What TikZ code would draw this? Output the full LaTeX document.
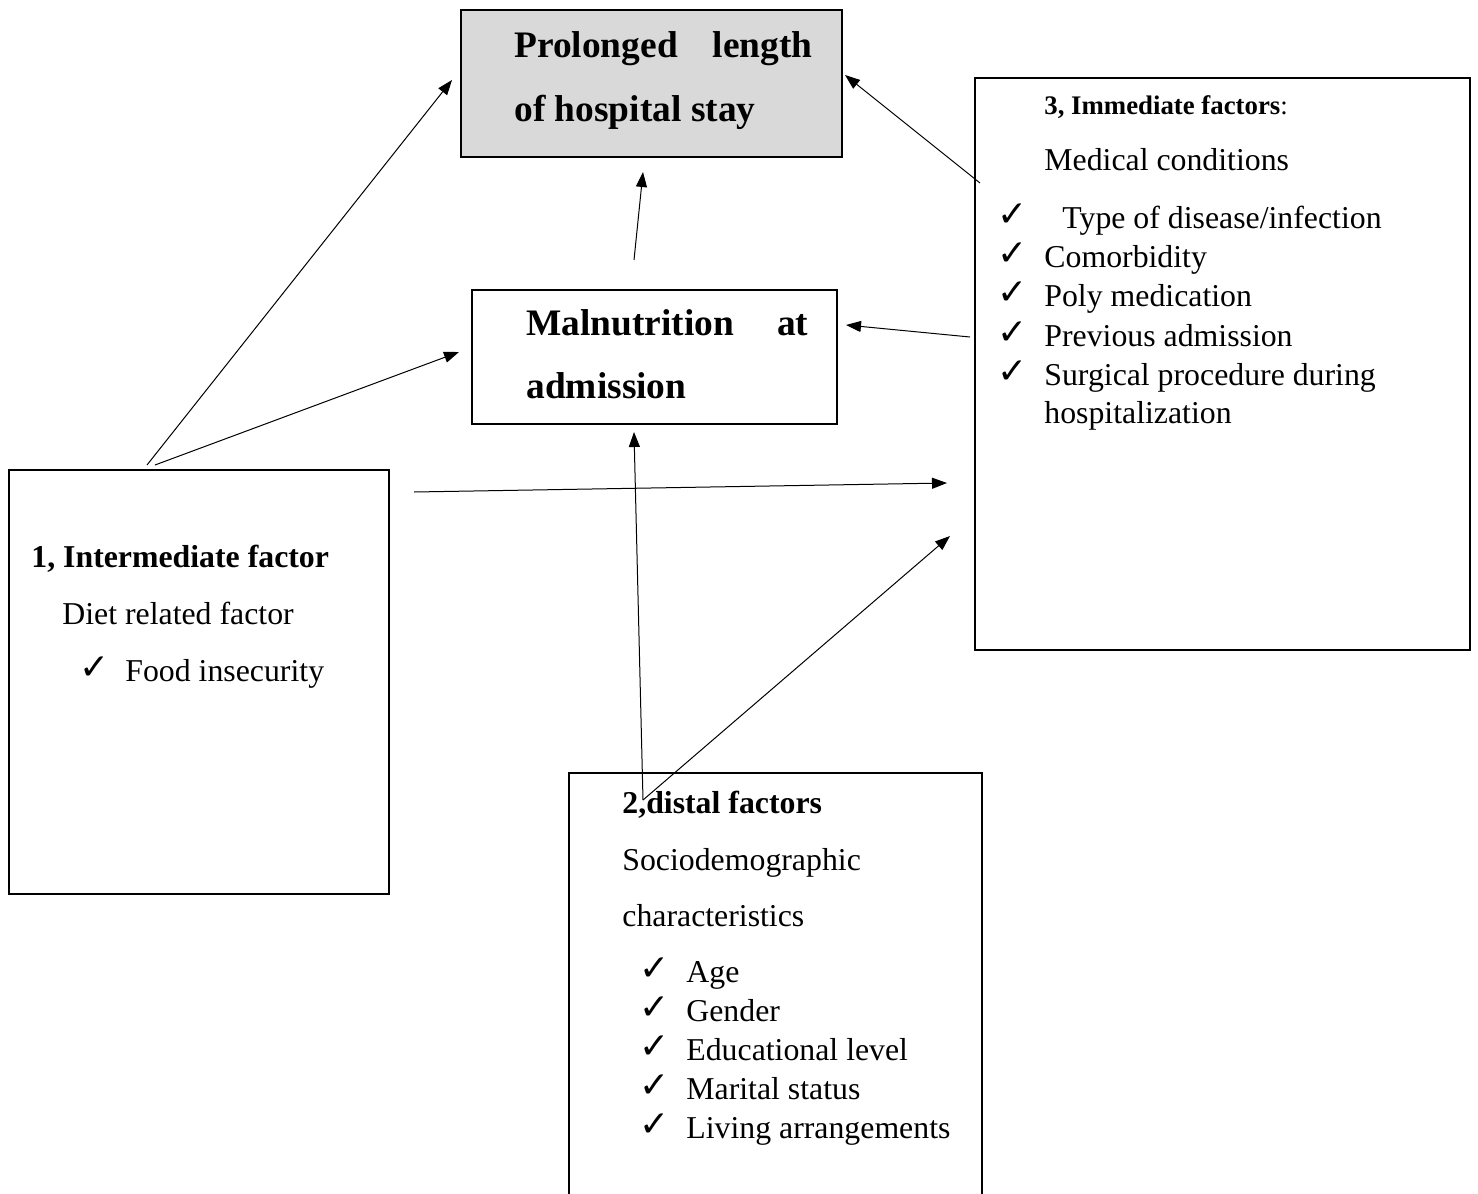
\documentclass[tikz,border=0pt]{standalone}
\usepackage{fontspec}
\setmainfont{Liberation Serif}
\newfontfamily\tickfont{DejaVu Sans}
\usetikzlibrary{arrows.meta, positioning}

\tikzset{
  box/.style={draw, line width=0.75pt, inner sep=0pt},
  link/.style={-{Triangle[length=7.5pt,width=5.5pt]}, line width=0.5pt},
  txt/.style={anchor=base west, inner sep=0pt, font=\fontsize{15.9}{19}\selectfont},
  head/.style={anchor=base west, inner sep=0pt, font=\fontsize{18.7}{22}\selectfont\bfseries},
  subhead/.style={anchor=base west, inner sep=0pt, font=\fontsize{15.9}{19}\selectfont\bfseries},
  smallhead/.style={anchor=base west, inner sep=0pt, font=\fontsize{13.4}{16}\selectfont},
  tick/.style={anchor=base west, inner sep=0pt, font=\tickfont\bfseries\fontsize{18}{20}\selectfont},
}

\begin{document}
\begin{tikzpicture}[x=0.5pt, y=-0.5pt]
    \useasboundingbox (0,0) rectangle (1478,1194);
    \clip (0,0) rectangle (1478,1194);

    % boxes
    \node[box, fill=black!15, minimum width=190.5pt, minimum height=73.5pt] (stay) at (651.5,83.5) {};
    \node[box, minimum width=182.5pt, minimum height=67pt] (maln) at (654.5,357) {};
    \node[box, minimum width=247.5pt, minimum height=286pt] (immed) at (1222.5,364) {};
    \node[box, minimum width=190pt, minimum height=212pt] (interm) at (199,682) {};
    \node[box, minimum width=206.5pt, minimum height=228.5pt] (distal) at (775.5,1001.5) {};

    % outcome
    \node[head] (stay1) at (514,57) {\makebox[149pt][l]{Prolonged\hfill length}};
    \node[head] (stay2) at (514,121) {of hospital stay};
    \node[head] (maln1) at (526,335) {\makebox[141pt][l]{Malnutrition\hfill at}};
    \node[head] (maln2) at (526,398) {admission};

    % 3, immediate factors
    \node[smallhead] (immhead) at (1044,114) {\textbf{3, Immediate factors}:};
    \node[txt] (immsub) at (1044,170) {Medical conditions};
    \node[tick] (immtick0) at (997,226) {✓};
    \node[txt] (imm0) at (1062,228) {Type of disease/infection};
    \foreach \y/\t [count=\i] in {267/Comorbidity, 306/Poly medication, 346/Previous admission, 385/Surgical procedure during} {
        \node[tick] (immtick\i) at (997,\y-2) {✓};
        \node[txt] (imm\i) at (1044,\y) {\t};
    }
    \node[txt] (imm5) at (1044,423) {hospitalization};

    % 1, intermediate factor
    \node[subhead] (inthead) at (31,567) {1, Intermediate factor};
    \node[txt] (intsub) at (62,624) {Diet related factor};
    \node[tick] (inttick) at (79,679) {✓};
    \node[txt] (int1) at (125,681) {Food insecurity};

    % 2, distal factors
    \node[subhead] (disthead) at (622,813) {2,distal factors};
    \node[txt] (distsub1) at (622,870) {Sociodemographic};
    \node[txt] (distsub2) at (622,926) {characteristics};
    \foreach \y/\t [count=\i] in {982/Age, 1021/Gender, 1060/Educational level, 1099/Marital status, 1138/Living arrangements} {
        \node[tick] (disttick\i) at (639,\y-2) {✓};
        \node[txt] (dist\i) at (686,\y) {\t};
    }

    % connector ends
    \coordinate (intA) at (147,465);
    \coordinate (intB) at (155,465);
    \coordinate (intC) at (414,492);
    \coordinate (stayL) at (452,80);
    \coordinate (stayR) at (845,75);
    \coordinate (stayB) at (643,172);
    \coordinate (malnT) at (634,260);
    \coordinate (malnL) at (459,352);
    \coordinate (malnR) at (846,325);
    \coordinate (malnB) at (634,432);
    \coordinate (immA) at (980,183);
    \coordinate (immB) at (970,337);
    \coordinate (immC) at (947,483);
    \coordinate (immD) at (950,536);
    \coordinate (distA) at (643,800);

    % arrows
    \draw[link] (intA) -- (stayL);
    \draw[link] (intB) -- (malnL);
    \draw[link] (intC) -- (immC);
    \draw[link] (malnT) -- (stayB);
    \draw[link] (immA) -- (stayR);
    \draw[link] (immB) -- (malnR);
    \draw[link] (distA) -- (malnB);
    \draw[link] (distA) -- (immD);
\end{tikzpicture}
\end{document}
